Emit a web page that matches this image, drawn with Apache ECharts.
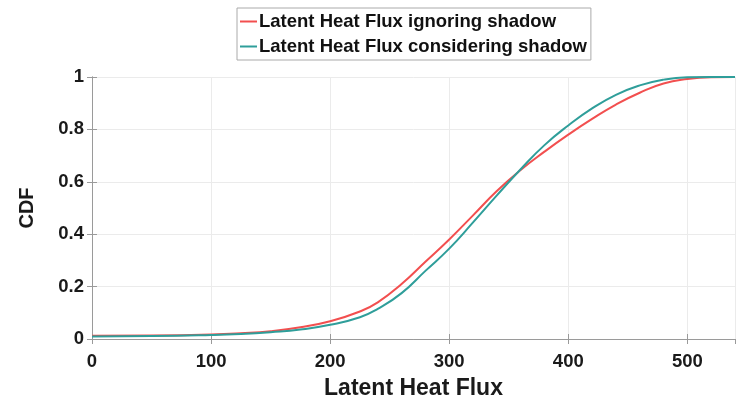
<!DOCTYPE html>
<html>
<head>
<meta charset="utf-8">
<script src="https://cdn.jsdelivr.net/npm/echarts@6/dist/echarts.min.js"></script>
<style>
  html, body { margin: 0; padding: 0; background: #fff; }
  #chart { width: 745px; height: 403px; }
</style>
</head>
<body>
<div id="chart"></div>
<script>
// latent heat flux values (x) and the two CDF curves
var fluxValues = [0, 50, 100, 125, 150, 175, 200, 225, 240, 260, 280, 300, 320, 340, 360, 380, 400, 420, 440, 460, 480, 500, 520, 540];
var cdfIgnoring = [0.012, 0.013, 0.017, 0.022, 0.03, 0.045, 0.068, 0.105, 0.14, 0.21, 0.295, 0.38, 0.472, 0.565, 0.645, 0.715, 0.78, 0.84, 0.895, 0.94, 0.975, 0.992, 0.999, 1];
var cdfConsidering = [0.01, 0.011, 0.015, 0.019, 0.026, 0.036, 0.054, 0.083, 0.115, 0.175, 0.26, 0.345, 0.445, 0.548, 0.648, 0.74, 0.815, 0.88, 0.932, 0.968, 0.99, 0.999, 1, 1];
var seriesNames = ['Latent Heat Flux ignoring shadow', 'Latent Heat Flux considering shadow'];

var chart = echarts.init(document.getElementById('chart'));

function pairs(ys) {
  return fluxValues.map(function (x, i) { return [x, ys[i]]; });
}

var axisGray = '#9a9a9a';
var fontFam = 'Liberation Sans, Arial, sans-serif';
var labelFont = { color: '#1a1a1a', fontSize: 18.5, fontWeight: 'bold', fontFamily: fontFam };

var option = {
  animation: false,
  legend: {
    orient: 'vertical',
    left: 237,
    top: 8,
    padding: [4, 4, 4, 3],
    itemGap: 6,
    itemWidth: 17,
    itemHeight: 2,
    icon: 'rect',
    borderColor: '#aaa',
    borderWidth: 1,
    backgroundColor: '#fff',
    data: seriesNames,
    textStyle: { color: '#111', fontSize: 18.5, fontWeight: 'bold', fontFamily: fontFam, padding: [0, 0, 0, -3] }
  },
  grid: { left: 92, right: 10, top: 77, bottom: 64, outerBoundsMode: 'none' },
  xAxis: [{
    type: 'value',
    min: 0,
    max: 540,
    interval: 100,
    name: 'Latent Heat Flux',
    nameLocation: 'middle',
    nameGap: 38,
    nameTextStyle: { color: '#1a1a1a', fontSize: 23, fontWeight: 'bold', fontFamily: fontFam },
    axisLine: { lineStyle: { color: axisGray } },
    axisTick: { inside: true, length: 5, lineStyle: { color: axisGray } },
    axisLabel: Object.assign({ margin: 13, showMaxLabel: false }, labelFont),
    splitLine: { show: true, lineStyle: { color: '#ebebeb' } }
  }, {
    type: 'value',
    position: 'top',
    min: 0,
    max: 540,
    interval: 100,
    axisLine: { show: true, lineStyle: { color: axisGray } },
    axisTick: { show: true, inside: true, length: 5, lineStyle: { color: axisGray } },
    axisLabel: { show: false },
    splitLine: { show: false }
  }],
  yAxis: [{
    type: 'value',
    min: 0,
    max: 1,
    interval: 0.2,
    name: 'CDF',
    nameLocation: 'middle',
    nameGap: 55,
    nameTextStyle: { color: '#1a1a1a', fontSize: 20, fontWeight: 'bold', fontFamily: fontFam },
    axisLine: { show: true, lineStyle: { color: axisGray } },
    axisTick: { show: true, inside: true, length: 5, lineStyle: { color: axisGray } },
    axisLabel: Object.assign({ margin: 8, formatter: function (v) { return String(Math.round(v * 10) / 10); } }, labelFont),
    splitLine: { show: true, lineStyle: { color: '#ebebeb' } }
  }, {
    type: 'value',
    position: 'right',
    min: 0,
    max: 1,
    interval: 0.2,
    axisLine: { show: true, lineStyle: { color: axisGray } },
    axisTick: { show: true, inside: true, length: 5, lineStyle: { color: axisGray } },
    axisLabel: { show: false },
    splitLine: { show: false }
  }],
  series: [{
    name: seriesNames[0],
    type: 'line',
    smooth: 0.5,
    symbol: 'none',
    data: pairs(cdfIgnoring),
    itemStyle: { color: '#f24f4f' },
    lineStyle: { color: '#f24f4f', width: 2 }
  }, {
    name: seriesNames[1],
    type: 'line',
    smooth: 0.5,
    symbol: 'none',
    data: pairs(cdfConsidering),
    itemStyle: { color: '#2f9e9a' },
    lineStyle: { color: '#2f9e9a', width: 2 }
  }]
};

chart.setOption(option);
</script>
</body>
</html>
